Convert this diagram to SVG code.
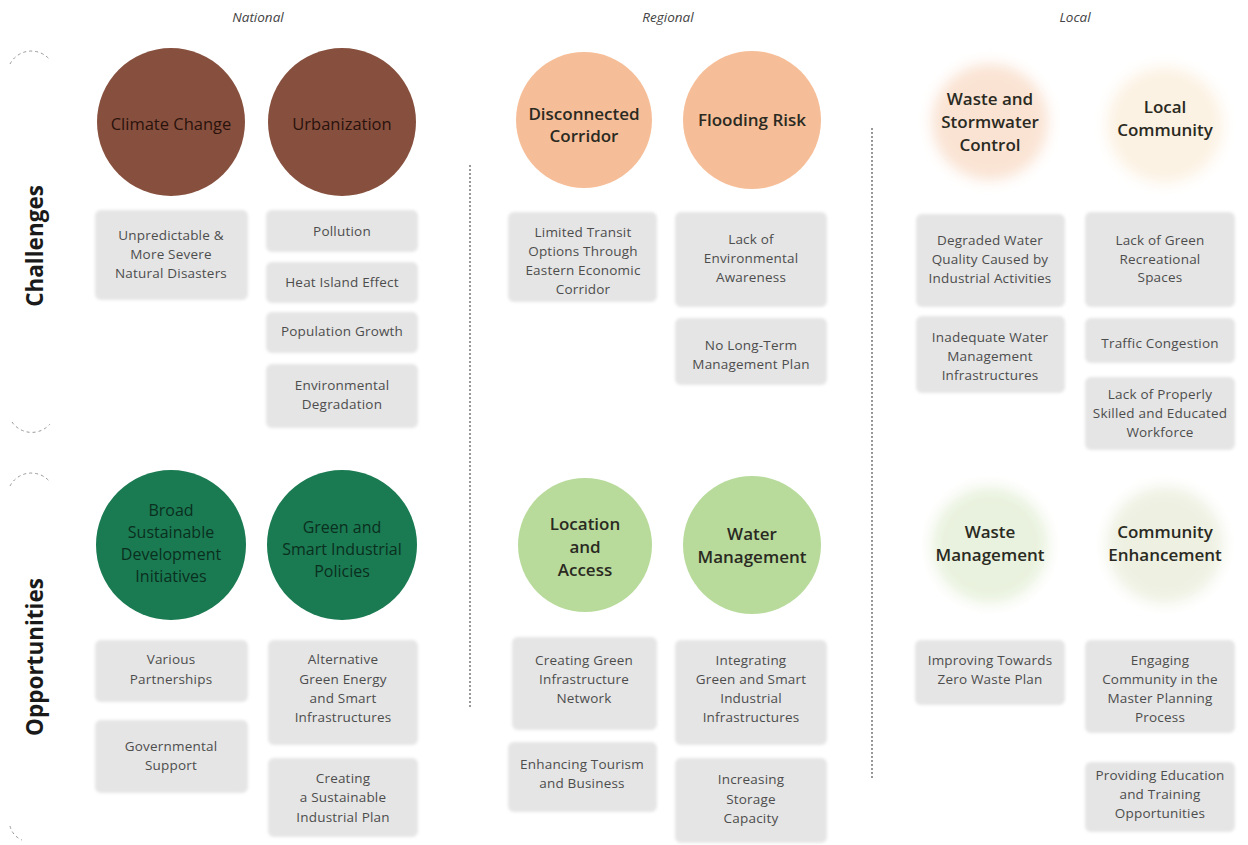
<svg xmlns="http://www.w3.org/2000/svg" width="1248" height="845" viewBox="0 0 1248 845">
<defs>
<filter id="soft" x="-10%" y="-10%" width="120%" height="120%"><feGaussianBlur stdDeviation="1.5"/></filter>
<filter id="haze" x="-30%" y="-30%" width="160%" height="160%"><feGaussianBlur stdDeviation="7"/></filter>
<style>
.hdr{font-family:"Open Sans","Liberation Sans",sans-serif;font-style:italic;font-size:13.5px;fill:#444;text-anchor:middle}
.side{font-family:"Open Sans","Liberation Sans",sans-serif;font-weight:700;font-size:22.5px;fill:#1a1a1a;text-anchor:middle}
.ct{font-family:"Open Sans","Liberation Sans",sans-serif;font-size:16.5px;fill:#2a120c;text-anchor:middle}
.gt{font-family:"Open Sans","Liberation Sans",sans-serif;font-size:16px;fill:#0a2f1e;text-anchor:middle}
.bt{font-family:"Open Sans","Liberation Sans",sans-serif;font-weight:600;font-size:17px;fill:#2a2a22;text-anchor:middle}
.box{fill:#e5e5e5;filter:url(#soft)}
.tx{font-family:"Open Sans","Liberation Sans",sans-serif;font-size:13.5px;letter-spacing:0.2px;fill:#4d4d4d;text-anchor:middle}
.div{stroke:#555;stroke-width:1.2;stroke-dasharray:2 2;fill:none}
.arc{stroke:#999;stroke-width:1;stroke-dasharray:3 3;fill:none}
</style>
</defs>
<rect width="1248" height="845" fill="#ffffff"/>

<g id="headers">
<text class="hdr" x="258" y="22">National</text>
<text class="hdr" x="668" y="22">Regional</text>
<text class="hdr" x="1075" y="22">Local</text>
</g>

<g id="side-labels">
<text class="side" transform="translate(43,246) rotate(-90)">Challenges</text>
<text class="side" transform="translate(43,657) rotate(-90)">Opportunities</text>
<path class="arc" d="M10 64 A24 24 0 0 1 50 60"/>
<path class="arc" d="M12 422 A24 24 0 0 0 50 424"/>
<path class="arc" d="M10 486 A24 24 0 0 1 50 482"/>
<path class="arc" d="M10 826 A20 20 0 0 0 22 840"/>
</g>

<g id="connectors">
<line class="div" x1="470" y1="165" x2="470" y2="708"/>
<line class="div" x1="872" y1="128" x2="872" y2="780"/>
</g>

<!-- Challenge circles -->
<g id="climate-change"><circle cx="171" cy="122" r="74" fill="#87503e"/><text class="ct" x="171" y="130">Climate Change</text></g>
<g id="urbanization"><circle cx="342" cy="122" r="74" fill="#87503e"/><text class="ct" x="342" y="130">Urbanization</text></g>
<g id="disconnected-corridor"><circle cx="584" cy="120" r="68" fill="#f6be98"/><text class="bt" x="584" y="120">Disconnected</text><text class="bt" x="584" y="142">Corridor</text></g>
<g id="flooding-risk"><circle cx="752" cy="120" r="69" fill="#f6be98"/><text class="bt" x="752" y="126">Flooding Risk</text></g>
<g id="waste-stormwater"><circle cx="990" cy="122" r="58" fill="#fae3d3" filter="url(#haze)"/><text class="bt" x="990" y="105">Waste and</text><text class="bt" x="990" y="128">Stormwater</text><text class="bt" x="990" y="151">Control</text></g>
<g id="local-community"><circle cx="1165" cy="125" r="58" fill="#fcf2e3" filter="url(#haze)"/><text class="bt" x="1165" y="113">Local</text><text class="bt" x="1165" y="136">Community</text></g>

<!-- Opportunity circles -->
<g id="broad-sd"><circle cx="171" cy="545" r="75" fill="#1a7a52"/><text class="gt" x="171" y="516">Broad</text><text class="gt" x="171" y="538">Sustainable</text><text class="gt" x="171" y="560">Development</text><text class="gt" x="171" y="582">Initiatives</text></g>
<g id="green-smart-policies"><circle cx="342" cy="545" r="75" fill="#1a7a52"/><text class="gt" x="342" y="533">Green and</text><text class="gt" x="342" y="555">Smart Industrial</text><text class="gt" x="342" y="577">Policies</text></g>
<g id="location-access"><circle cx="585" cy="545" r="67" fill="#b8db9c"/><text class="bt" x="585" y="530">Location</text><text class="bt" x="585" y="553">and</text><text class="bt" x="585" y="576">Access</text></g>
<g id="water-management"><circle cx="752" cy="545" r="69" fill="#b8db9c"/><text class="bt" x="752" y="540">Water</text><text class="bt" x="752" y="563">Management</text></g>
<g id="waste-management"><circle cx="990" cy="545" r="58" fill="#e9f2de" filter="url(#haze)"/><text class="bt" x="990" y="538">Waste</text><text class="bt" x="990" y="561">Management</text></g>
<g id="community-enhancement"><circle cx="1165" cy="545" r="58" fill="#eef1e2" filter="url(#haze)"/><text class="bt" x="1165" y="538">Community</text><text class="bt" x="1165" y="561">Enhancement</text></g>

<!-- National challenge boxes -->
<g id="natural-disasters"><rect class="box" x="95" y="210" width="153" height="90" rx="6"/><text class="tx" x="171" y="240">Unpredictable &amp;</text><text class="tx" x="171" y="259">More Severe</text><text class="tx" x="171" y="278">Natural Disasters</text></g>
<g id="pollution"><rect class="box" x="266" y="210" width="152" height="42" rx="6"/><text class="tx" x="342" y="236">Pollution</text></g>
<g id="heat-island"><rect class="box" x="266" y="262" width="152" height="41" rx="6"/><text class="tx" x="342" y="287">Heat Island Effect</text></g>
<g id="population-growth"><rect class="box" x="266" y="312" width="152" height="41" rx="6"/><text class="tx" x="342" y="336">Population Growth</text></g>
<g id="env-degradation"><rect class="box" x="266" y="364" width="152" height="64" rx="6"/><text class="tx" x="342" y="390">Environmental</text><text class="tx" x="342" y="409">Degradation</text></g>

<!-- National opportunity boxes -->
<g id="partnerships"><rect class="box" x="95" y="640" width="153" height="62" rx="6"/><text class="tx" x="171" y="664">Various</text><text class="tx" x="171" y="684">Partnerships</text></g>
<g id="gov-support"><rect class="box" x="95" y="720" width="153" height="73" rx="6"/><text class="tx" x="171" y="751">Governmental</text><text class="tx" x="171" y="770">Support</text></g>
<g id="alt-energy"><rect class="box" x="268" y="640" width="150" height="105" rx="6"/><text class="tx" x="343" y="664">Alternative</text><text class="tx" x="343" y="684">Green Energy</text><text class="tx" x="343" y="703">and Smart</text><text class="tx" x="343" y="722">Infrastructures</text></g>
<g id="industrial-plan"><rect class="box" x="268" y="758" width="150" height="79" rx="6"/><text class="tx" x="343" y="783">Creating</text><text class="tx" x="343" y="802">a Sustainable</text><text class="tx" x="343" y="822">Industrial Plan</text></g>

<!-- Regional challenge boxes -->
<g id="limited-transit"><rect class="box" x="508" y="212" width="149" height="90" rx="6"/><text class="tx" x="583" y="237">Limited Transit</text><text class="tx" x="583" y="256">Options Through</text><text class="tx" x="583" y="275">Eastern Economic</text><text class="tx" x="583" y="294">Corridor</text></g>
<g id="env-awareness"><rect class="box" x="675" y="212" width="152" height="95" rx="6"/><text class="tx" x="751" y="244">Lack of</text><text class="tx" x="751" y="263">Environmental</text><text class="tx" x="751" y="282">Awareness</text></g>
<g id="long-term-plan"><rect class="box" x="675" y="318" width="152" height="67" rx="6"/><text class="tx" x="751" y="350">No Long-Term</text><text class="tx" x="751" y="369">Management Plan</text></g>

<!-- Regional opportunity boxes -->
<g id="green-infra-network"><rect class="box" x="512" y="637" width="145" height="93" rx="6"/><text class="tx" x="584" y="665">Creating Green</text><text class="tx" x="584" y="684">Infrastructure</text><text class="tx" x="584" y="703">Network</text></g>
<g id="tourism-business"><rect class="box" x="508" y="742" width="149" height="70" rx="6"/><text class="tx" x="582" y="769">Enhancing Tourism</text><text class="tx" x="582" y="788">and Business</text></g>
<g id="integrating-infra"><rect class="box" x="675" y="640" width="152" height="105" rx="6"/><text class="tx" x="751" y="665">Integrating</text><text class="tx" x="751" y="684">Green and Smart</text><text class="tx" x="751" y="703">Industrial</text><text class="tx" x="751" y="722">Infrastructures</text></g>
<g id="storage-capacity"><rect class="box" x="675" y="758" width="152" height="85" rx="6"/><text class="tx" x="751" y="784">Increasing</text><text class="tx" x="751" y="804">Storage</text><text class="tx" x="751" y="823">Capacity</text></g>

<!-- Local challenge boxes -->
<g id="water-quality"><rect class="box" x="916" y="214" width="149" height="93" rx="6"/><text class="tx" x="990" y="245">Degraded Water</text><text class="tx" x="990" y="264">Quality Caused by</text><text class="tx" x="990" y="283">Industrial Activities</text></g>
<g id="water-infra"><rect class="box" x="916" y="316" width="149" height="77" rx="6"/><text class="tx" x="990" y="342">Inadequate Water</text><text class="tx" x="990" y="361">Management</text><text class="tx" x="990" y="380">Infrastructures</text></g>
<g id="green-spaces"><rect class="box" x="1085" y="212" width="150" height="95" rx="6"/><text class="tx" x="1160" y="245">Lack of Green</text><text class="tx" x="1160" y="264">Recreational</text><text class="tx" x="1160" y="282">Spaces</text></g>
<g id="traffic"><rect class="box" x="1085" y="318" width="150" height="45" rx="6"/><text class="tx" x="1160" y="348">Traffic Congestion</text></g>
<g id="workforce"><rect class="box" x="1085" y="377" width="150" height="73" rx="6"/><text class="tx" x="1160" y="399">Lack of Properly</text><text class="tx" x="1160" y="418">Skilled and Educated</text><text class="tx" x="1160" y="437">Workforce</text></g>

<!-- Local opportunity boxes -->
<g id="zero-waste"><rect class="box" x="915" y="640" width="150" height="65" rx="6"/><text class="tx" x="990" y="665">Improving Towards</text><text class="tx" x="990" y="684">Zero Waste Plan</text></g>
<g id="engaging-community"><rect class="box" x="1085" y="640" width="150" height="93" rx="6"/><text class="tx" x="1160" y="665">Engaging</text><text class="tx" x="1160" y="684">Community in the</text><text class="tx" x="1160" y="703">Master Planning</text><text class="tx" x="1160" y="722">Process</text></g>
<g id="education-training"><rect class="box" x="1085" y="762" width="150" height="70" rx="6"/><text class="tx" x="1160" y="780">Providing Education</text><text class="tx" x="1160" y="799">and Training</text><text class="tx" x="1160" y="818">Opportunities</text></g>
</svg>
